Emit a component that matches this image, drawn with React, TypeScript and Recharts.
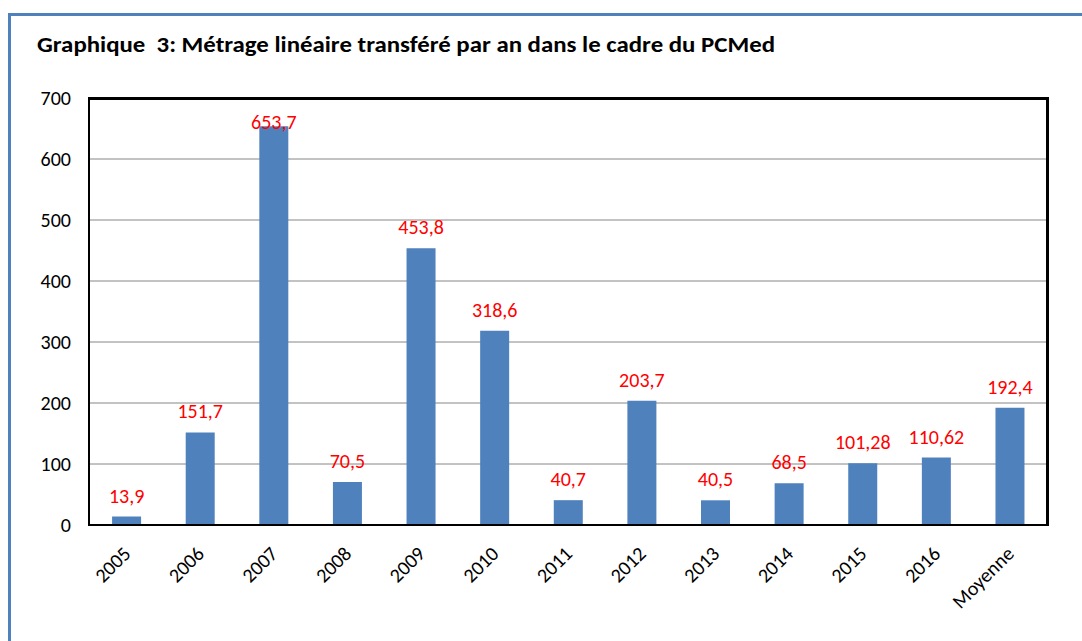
import React from 'react';
import { BarChart, Bar, XAxis, YAxis, CartesianGrid, LabelList } from 'recharts';

const categories = ['2005', '2006', '2007', '2008', '2009', '2010', '2011', '2012', '2013', '2014', '2015', '2016', 'Moyenne'];
const values = [13.9, 151.7, 653.7, 70.5, 453.8, 318.6, 40.7, 203.7, 40.5, 68.5, 101.28, 110.62, 192.4];
const yTicks = [0, 100, 200, 300, 400, 500, 600, 700];
const title = 'Graphique  3: Métrage linéaire transféré par an dans le cadre du PCMed';

const data = categories.map((c, i) => ({ name: c, value: values[i] }));

const FONT = 'Carlito, Lato, "Open Sans", sans-serif';
const BLUE = '#4f81bd';

const fmt = (v: number) => String(v).replace('.', ',');

const renderLabel = (props: any) => {
  const { x, y, width, value } = props;
  const by = Math.max(Number(y) - 14, 129);
  return (
    <text x={Number(x) + Number(width) / 2} y={by} textAnchor="middle" fill="#ff0000" fontSize={20} fontFamily={FONT}>
      {fmt(value)}
    </text>
  );
};

const XTick = (props: any) => {
  const { x, y, payload } = props;
  return (
    <g transform={`translate(${x + 5},${y + 30})`}>
      <text textAnchor="end" transform="rotate(-45)" fontSize={20} fill="#000" fontFamily={FONT}>
        {payload.value}
      </text>
    </g>
  );
};

export default function App() {
  return (
    <div style={{ position: 'absolute', left: 0, top: 0, width: 1082, height: 641, background: '#fff', overflow: 'hidden' }}>
      <div style={{ position: 'absolute', left: 8, top: 13, width: 1100, height: 700, borderTop: `3px solid ${BLUE}`, borderLeft: `3px solid ${BLUE}`, boxSizing: 'border-box' }} />
      <svg style={{ position: 'absolute', left: 0, top: 0 }} width={1082} height={80}>
        <text x={37} y={52} fontSize={23} fontWeight="bold" fontFamily={FONT} fill="#000" textLength={738} lengthAdjust="spacingAndGlyphs" style={{ whiteSpace: 'pre' }}>
          {title}
        </text>
      </svg>
      <div style={{ position: 'absolute', left: 0, top: 0 }}>
        <BarChart width={1082} height={641} data={data} margin={{ top: 98, right: 35, left: 30, bottom: 36 }} barCategoryGap="30%">
          <CartesianGrid vertical={false} stroke="#868686" strokeWidth={1} />
          <XAxis dataKey="name" height={80} interval={0} tickLine={false} axisLine={false} tickSize={0} tickMargin={0} tick={<XTick />} />
          <YAxis width={60} domain={[0, 700]} ticks={yTicks} tickLine={false} axisLine={false} tickSize={0} tickMargin={19} tick={{ fill: '#000', fontSize: 20, fontFamily: FONT }} />
          <Bar dataKey="value" fill={BLUE} isAnimationActive={false}>
            <LabelList dataKey="value" content={renderLabel} />
          </Bar>
        </BarChart>
      </div>
      <div style={{ position: 'absolute', left: 88, top: 97, width: 961, height: 429, boxSizing: 'border-box', borderTop: '3px solid #000', borderRight: '3px solid #000', borderLeft: '2px solid #000', borderBottom: '2px solid #000', pointerEvents: 'none' }} />
    </div>
  );
}
